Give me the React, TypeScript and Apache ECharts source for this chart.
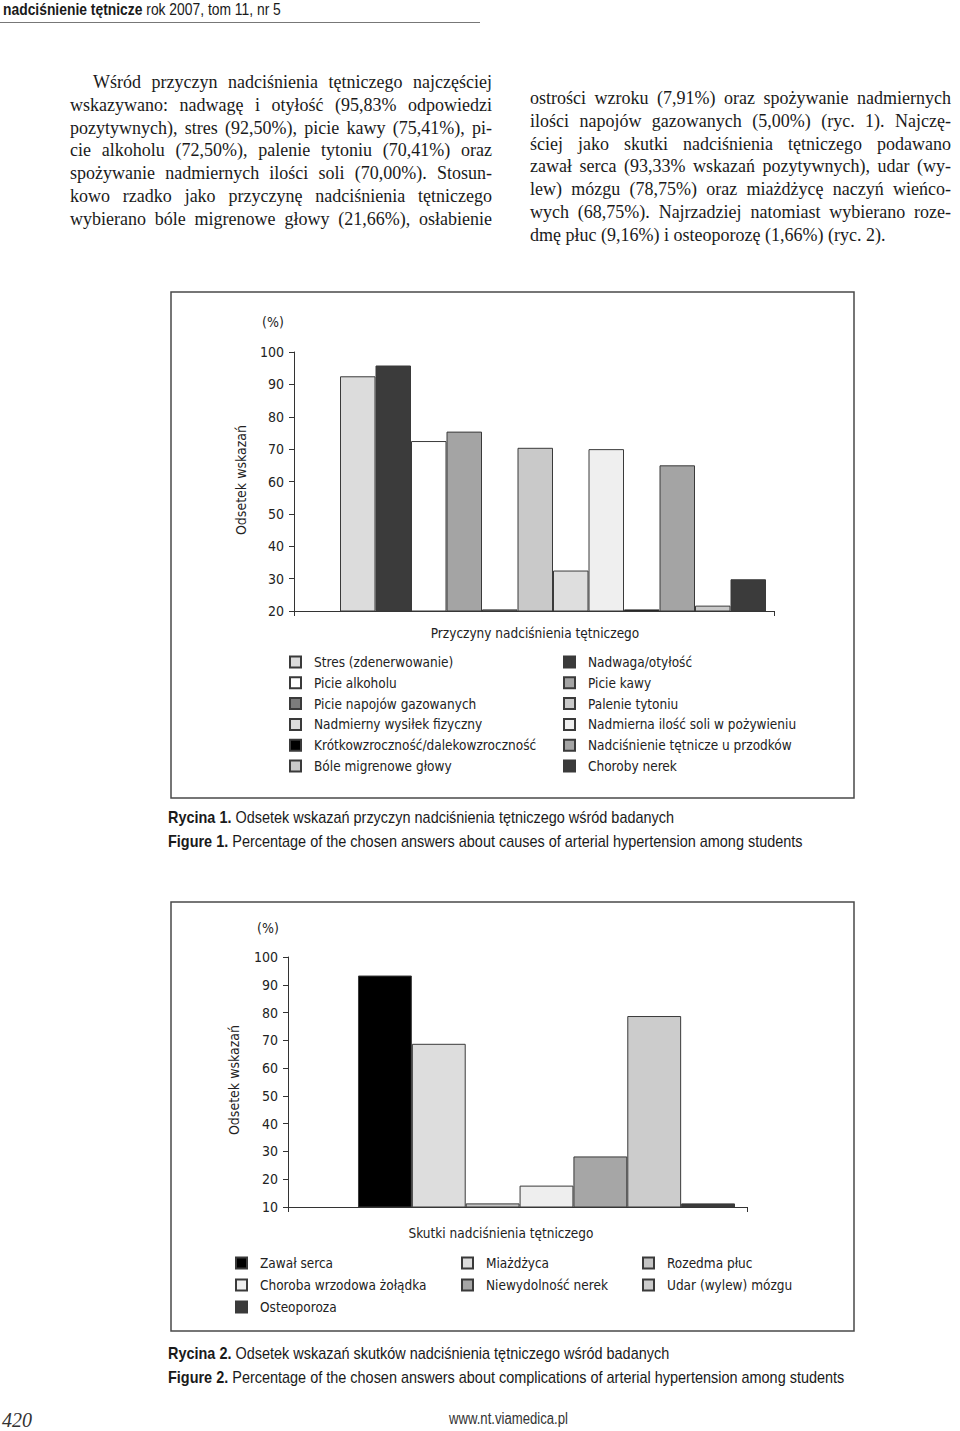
import React, { useEffect, useRef } from 'react';
import * as echarts from 'echarts';

const COND = '"DejaVu Sans Condensed", "Liberation Sans", sans-serif';
const SANS = '"Liberation Sans", Arial, sans-serif';
const SERIF = '"Liberation Serif", "DejaVu Serif", serif';

// ---- Figure 1 data ----
const causeNames = [
  'Stres (zdenerwowanie)',
  'Nadwaga/otyłość',
  'Picie alkoholu',
  'Picie kawy',
  'Picie napojów gazowanych',
  'Palenie tytoniu',
  'Nadmierny wysiłek fizyczny',
  'Nadmierna ilość soli w pożywieniu',
  'Krótkowzroczność/dalekowzroczność',
  'Nadciśnienie tętnicze u przodków',
  'Bóle migrenowe głowy',
  'Choroby nerek',
];
const causeValues = [92.5, 95.83, 72.5, 75.41, 5.0, 70.41, 32.5, 70.0, 7.91, 65.0, 21.66, 29.8];
const causeColors = ['#dcdcdc', '#3b3b3b', '#ffffff', '#a4a4a4', '#7c7c7c', '#c9c9c9', '#dedede', '#efefef', '#000000', '#a4a4a4', '#c9c9c9', '#3b3b3b'];
const causeAxis = { min: 20, max: 100, interval: 10 };

// ---- Figure 2 data ----
const effectNames = [
  'Zawał serca',
  'Miażdżyca',
  'Rozedma płuc',
  'Choroba wrzodowa żołądka',
  'Niewydolność nerek',
  'Udar (wylew) mózgu',
  'Osteoporoza',
];
const effectValues = [93.33, 68.75, 9.16, 17.7, 28.2, 78.75, 1.66];
const effectColors = ['#000000', '#dddddd', '#c4c4c4', '#eeeeee', '#a6a6a6', '#cccccc', '#3b3b3b'];
const effectAxis = { min: 10, max: 100, interval: 10 };

// ---- Page text ----
const leftLines = [
  'Wśród przyczyn nadciśnienia tętniczego najczęściej',
  'wskazywano: nadwagę i otyłość (95,83% odpowiedzi',
  'pozytywnych), stres (92,50%), picie kawy (75,41%), pi-',
  'cie alkoholu (72,50%), palenie tytoniu (70,41%) oraz',
  'spożywanie nadmiernych ilości soli (70,00%). Stosun-',
  'kowo rzadko jako przyczynę nadciśnienia tętniczego',
  'wybierano bóle migrenowe głowy (21,66%), osłabienie',
];
const rightLines = [
  'ostrości wzroku (7,91%) oraz spożywanie nadmiernych',
  'ilości napojów gazowanych (5,00%) (ryc. 1). Najczę-',
  'ściej jako skutki nadciśnienia tętniczego podawano',
  'zawał serca (93,33% wskazań pozytywnych), udar (wy-',
  'lew) mózgu (78,75%) oraz miażdżycę naczyń wieńco-',
  'wych (68,75%). Najrzadziej natomiast wybierano roze-',
  'dmę płuc (9,16%) i osteoporozę (1,66%) (ryc. 2).',
];

function barSeries(
  names: string[], values: number[], colors: string[], axisMin: number,
  sliver: number, barW: number, padW: number, idx: number
) {
  const pad = {
    name: '__pad' + idx, type: 'bar', xAxisIndex: idx, yAxisIndex: idx,
    barWidth: padW, barGap: '0%', data: [null], silent: true,
    itemStyle: { color: 'transparent' },
  };
  const list = names.map((n, i) => ({
    name: n, type: 'bar', xAxisIndex: idx, yAxisIndex: idx,
    barWidth: barW, barGap: '0%', silent: true,
    // values below the axis minimum are drawn as a sliver on the baseline, as in the original
    data: [{ value: Math.max(values[i], axisMin + sliver), realValue: values[i] }],
    itemStyle: { color: colors[i], borderColor: '#3a3a3a', borderWidth: 1 },
  }));
  return [pad, ...list];
}

const legendBase = (left: number, top: number, gap: number, data: string[]) => ({
  orient: 'vertical', left, top, itemGap: gap, padding: 0, icon: 'rect',
  itemWidth: 11, itemHeight: 11, selectedMode: false, data,
  textStyle: { fontFamily: COND, fontSize: 13.5, color: '#222', padding: [0, 0, 0, 8] },
});

function yAxisCfg(ax: { min: number; max: number; interval: number }, idx: number) {
  return {
    type: 'value', gridIndex: idx, min: ax.min, max: ax.max, interval: ax.interval,
    axisLine: { show: true, lineStyle: { color: '#333', width: 1 } },
    axisTick: { show: true, length: 5, lineStyle: { color: '#333' } },
    splitLine: { show: false },
    axisLabel: { fontFamily: COND, fontSize: 14, color: '#222', margin: 10 },
  };
}
function xAxisCfg(idx: number) {
  return {
    type: 'category', gridIndex: idx, data: [''],
    axisLine: { show: true, lineStyle: { color: '#333', width: 1 } },
    axisTick: { show: true, length: 5, lineStyle: { color: '#333' } },
    axisLabel: { show: false },
  };
}

const txt = (x: number, y: number, text: string, extra: any = {}) => ({
  type: 'text', x, y, silent: true,
  style: { text, fontFamily: COND, fontSize: 13.5, fill: '#222', align: 'center', verticalAlign: 'middle', ...extra },
});

function Chart() {
  const ref = useRef<HTMLDivElement>(null);
  useEffect(() => {
    if (!ref.current) return;
    const chart = echarts.init(ref.current, null, { renderer: 'svg' });
    const leftIdx1 = [0, 2, 4, 6, 8, 10];
    const rightIdx1 = [1, 3, 5, 7, 9, 11];
    const option: any = {
      animation: false,
      grid: [
        { left: 294, top: 352, width: 480, height: 259, containLabel: false },
        { left: 288, top: 957, width: 459, height: 250, containLabel: false },
      ],
      xAxis: [xAxisCfg(0), xAxisCfg(1)],
      yAxis: [yAxisCfg(causeAxis, 0), yAxisCfg(effectAxis, 1)],
      legend: [
        legendBase(289, 655, 6.8, leftIdx1.map((i) => causeNames[i])),
        legendBase(563, 655, 6.8, rightIdx1.map((i) => causeNames[i])),
        legendBase(235, 1256, 8, [0, 3, 6].map((i) => effectNames[i])),
        legendBase(461, 1256, 8, [1, 4].map((i) => effectNames[i])),
        legendBase(642, 1256, 8, [2, 5].map((i) => effectNames[i])),
      ],
      series: [
        ...barSeries(causeNames, causeValues, causeColors, causeAxis.min, 0.5, 35.5, 38, 0),
        ...barSeries(effectNames, effectValues, effectColors, effectAxis.min, 1.3, 53.86, 58, 1),
      ],
      graphic: [
        { type: 'rect', silent: true, shape: { x: 171, y: 292, width: 683, height: 506 }, style: { fill: 'none', stroke: '#4a4a4a', lineWidth: 1.5 } },
        { type: 'rect', silent: true, shape: { x: 171, y: 902, width: 683, height: 429 }, style: { fill: 'none', stroke: '#4a4a4a', lineWidth: 1.5 } },
        txt(273, 322, '(%)', { fontSize: 14 }),
        txt(268, 928, '(%)', { fontSize: 14 }),
        { ...txt(241, 480, 'Odsetek wskazań', { fontSize: 14 }), rotation: Math.PI / 2 },
        { ...txt(234, 1080, 'Odsetek wskazań', { fontSize: 14 }), rotation: Math.PI / 2 },
        txt(535, 633, 'Przyczyny nadciśnienia tętniczego'),
        txt(501, 1233, 'Skutki nadciśnienia tętniczego'),
      ],
    };
    chart.setOption(option);
    return () => chart.dispose();
  }, []);
  return <div ref={ref} style={{ position: 'absolute', left: 0, top: 0, width: 960, height: 1431 }} />;
}

function TextLine({ x, y, w, text, justify, style, sx }: any) {
  return (
    <div
      style={{
        position: 'absolute', left: x, top: y - 12, width: w, height: 24, lineHeight: '24px',
        whiteSpace: 'nowrap', textAlign: justify ? 'justify' : 'left',
        textAlignLast: justify ? 'justify' : 'left',
        transform: sx ? `scaleX(${sx})` : undefined, transformOrigin: 'left center',
        ...style,
      }}
    >
      {text}
    </div>
  );
}

export default function App() {
  const body: React.CSSProperties = { fontFamily: SERIF, fontSize: 18, color: '#1a1a1a' };
  const cap: React.CSSProperties = { fontFamily: SANS, fontSize: 17, color: '#1a1a1a' };
  const lineGap = 22.8;
  return (
    <div style={{ position: 'absolute', left: 0, top: 0, width: 960, height: 1431, background: '#fff', overflow: 'hidden' }}>
      <Chart />
      <div style={{ position: 'absolute', left: 0, top: 0, width: 960, height: 1431, pointerEvents: 'none' }}>
        <TextLine x={3} y={9} w={600} sx={0.84} style={{ ...cap, fontSize: 16.5 }}
          text={<><b>nadciśnienie tętnicze</b> rok 2007, tom 11, nr 5</>} />
        <div style={{ position: 'absolute', left: 0, top: 22, width: 480, height: 1, background: '#777' }} />
        {leftLines.map((t, i) => (
          <TextLine key={'l' + i} x={i === 0 ? 93 : 70} y={82 + i * lineGap} w={i === 0 ? 399 : 422}
            text={t} justify style={body} />
        ))}
        {rightLines.map((t, i) => (
          <TextLine key={'r' + i} x={530} y={98 + i * lineGap} w={421}
            text={t} justify={i < rightLines.length - 1} style={body} />
        ))}
        <TextLine x={168} y={818} w={800} sx={0.85} style={cap}
          text={<><b>Rycina 1.</b> Odsetek wskazań przyczyn nadciśnienia tętniczego wśród badanych</>} />
        <TextLine x={168} y={842} w={900} sx={0.85} style={cap}
          text={<><b>Figure 1.</b> Percentage of the chosen answers about causes of arterial hypertension among students</>} />
        <TextLine x={168} y={1354} w={800} sx={0.85} style={cap}
          text={<><b>Rycina 2.</b> Odsetek wskazań skutków nadciśnienia tętniczego wśród badanych</>} />
        <TextLine x={168} y={1378} w={900} sx={0.85} style={cap}
          text={<><b>Figure 2.</b> Percentage of the chosen answers about complications of arterial hypertension among students</>} />
        <TextLine x={2} y={1420} w={60} style={{ fontFamily: SERIF, fontStyle: 'italic', fontSize: 20, color: '#333' }} text="420" />
        <TextLine x={449} y={1419} w={200} sx={0.82} style={{ ...cap, fontSize: 16, color: '#333' }} text="www.nt.viamedica.pl" />
      </div>
    </div>
  );
}
